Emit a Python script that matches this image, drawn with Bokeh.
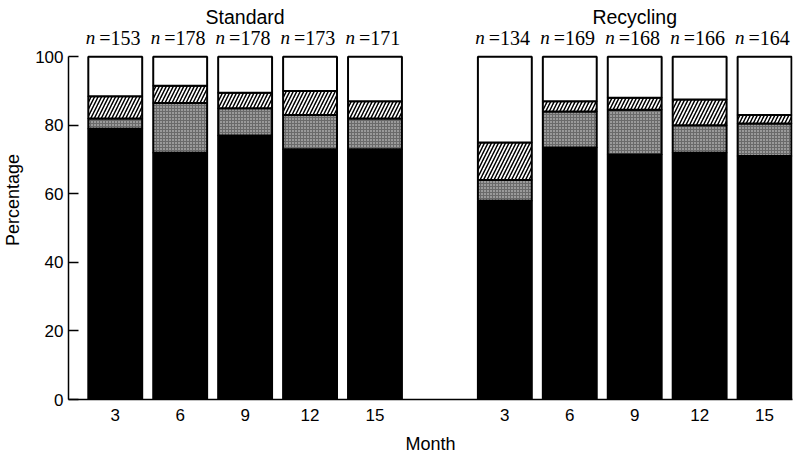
from bokeh.plotting import figure
from bokeh.models import ColumnDataSource, Range1d, FixedTicker, LabelSet, Label
from bokeh.embed import file_html
from bokeh.resources import INLINE

groups = ["Standard", "Recycling"]
months = ["3", "6", "9", "12", "15"]
n_standard = [153, 178, 178, 173, 171]
n_recycling = [134, 169, 168, 166, 164]
black_standard = [79, 72, 77, 73, 73]
gray_standard = [3, 14.5, 8, 10, 9]
hatch_standard = [6.5, 5, 4.5, 7, 5]
white_standard = [11.5, 8.5, 10.5, 10, 13]
black_recycling = [58, 73.5, 71.5, 72, 71]
gray_recycling = [6, 10.5, 13, 8, 9.5]
hatch_recycling = [11, 3, 3.5, 7.5, 2.5]
white_recycling = [25, 13, 12, 12.5, 17]

FONT = "Liberation Sans"
GAP = 1  # empty slot between groups

xs, labels, ns = [], [], []
blk, gry, hch, wht = [], [], [], []
group_data = [
    (n_standard, black_standard, gray_standard, hatch_standard, white_standard),
    (n_recycling, black_recycling, gray_recycling, hatch_recycling, white_recycling),
]
group_centers = []
for g, (n, b, gr, h, w) in enumerate(group_data):
    gx = [g * (len(months) + GAP) + i for i in range(len(months))]
    group_centers.append(sum(gx) / len(gx))
    xs += gx
    labels += months
    ns += n
    blk += b
    gry += gr
    hch += h
    wht += w

tot = [a + b + c + d for a, b, c, d in zip(blk, gry, hch, wht)]
src = ColumnDataSource(dict(
    x=xs, black=blk, gray=gry, hatch=hch, white=wht, total=tot,
    nsym=["n"] * len(xs), ntxt=["=%d" % v for v in ns],
))

p = figure(width=797, height=456, output_backend="svg", toolbar_location=None,
           x_range=Range1d(-0.72, 10.43), y_range=Range1d(0, 116.4),
           min_border_left=67, min_border_right=5, min_border_top=0, min_border_bottom=51)
p.outline_line_color = None
p.xgrid.visible = False
p.ygrid.visible = False
p.background_fill_color = "white"
p.border_fill_color = "white"

p.vbar_stack(["black", "gray", "hatch", "white"], x="x", width=0.83, source=src,
             fill_color=["black", "#6a6a6a", "white", "white"],
             line_color="black", line_width=2,
             hatch_pattern=[" ", "dot", "/", " "],
             hatch_color=["black", "#e0e0e0", "black", "black"],
             hatch_scale=[6, 3, 7, 6], hatch_weight=[1, 1, 1.5, 1])

p.add_layout(LabelSet(x="x", y="total", text="nsym", source=src, x_offset=-20, y_offset=19,
                      text_align="right", text_baseline="middle", text_font="DejaVu Sans",
                      text_font_style="italic", text_font_size="19px", text_color="black"))
p.add_layout(LabelSet(x="x", y="total", text="ntxt", source=src, x_offset=-16, y_offset=19,
                      text_align="left", text_baseline="middle", text_font=FONT,
                      text_font_size="20px", text_color="black"))
for gname, gc in zip(groups, group_centers):
    p.add_layout(Label(x=gc, y=100, y_offset=40, text=gname, text_align="center",
                       text_baseline="middle", text_font=FONT, text_font_size="19.5px",
                       text_color="black"))

p.xaxis.ticker = FixedTicker(ticks=xs)
p.xaxis.major_label_overrides = {x: l for x, l in zip(xs, labels)}
p.xaxis.major_tick_in = 0
p.xaxis.major_tick_out = 0
p.xaxis.minor_tick_line_color = None
p.xaxis.major_label_standoff = 9
p.xaxis.axis_label = "Month"
p.xaxis.axis_label_standoff = 10

p.yaxis.ticker = FixedTicker(ticks=[0, 20, 40, 60, 80, 100])
p.yaxis.bounds = (0, 100)
p.yaxis.major_tick_in = 10
p.yaxis.major_tick_out = 0
p.yaxis.minor_tick_line_color = None
p.yaxis.major_label_standoff = 5
p.yaxis.axis_label = "Percentage"
p.yaxis.axis_label_standoff = 9

for ax in (p.xaxis, p.yaxis):
    ax.axis_line_width = 1.5
    ax.axis_line_color = "black"
    ax.major_tick_line_color = "black"
    ax.major_tick_line_width = 1.5
    ax.major_label_text_font = FONT
    ax.major_label_text_font_size = "17px"
    ax.major_label_text_color = "black"
    ax.axis_label_text_font = FONT
    ax.axis_label_text_font_size = "18px"
    ax.axis_label_text_font_style = "normal"
    ax.axis_label_text_color = "black"

open("out.html", "w").write(file_html(p, INLINE))
